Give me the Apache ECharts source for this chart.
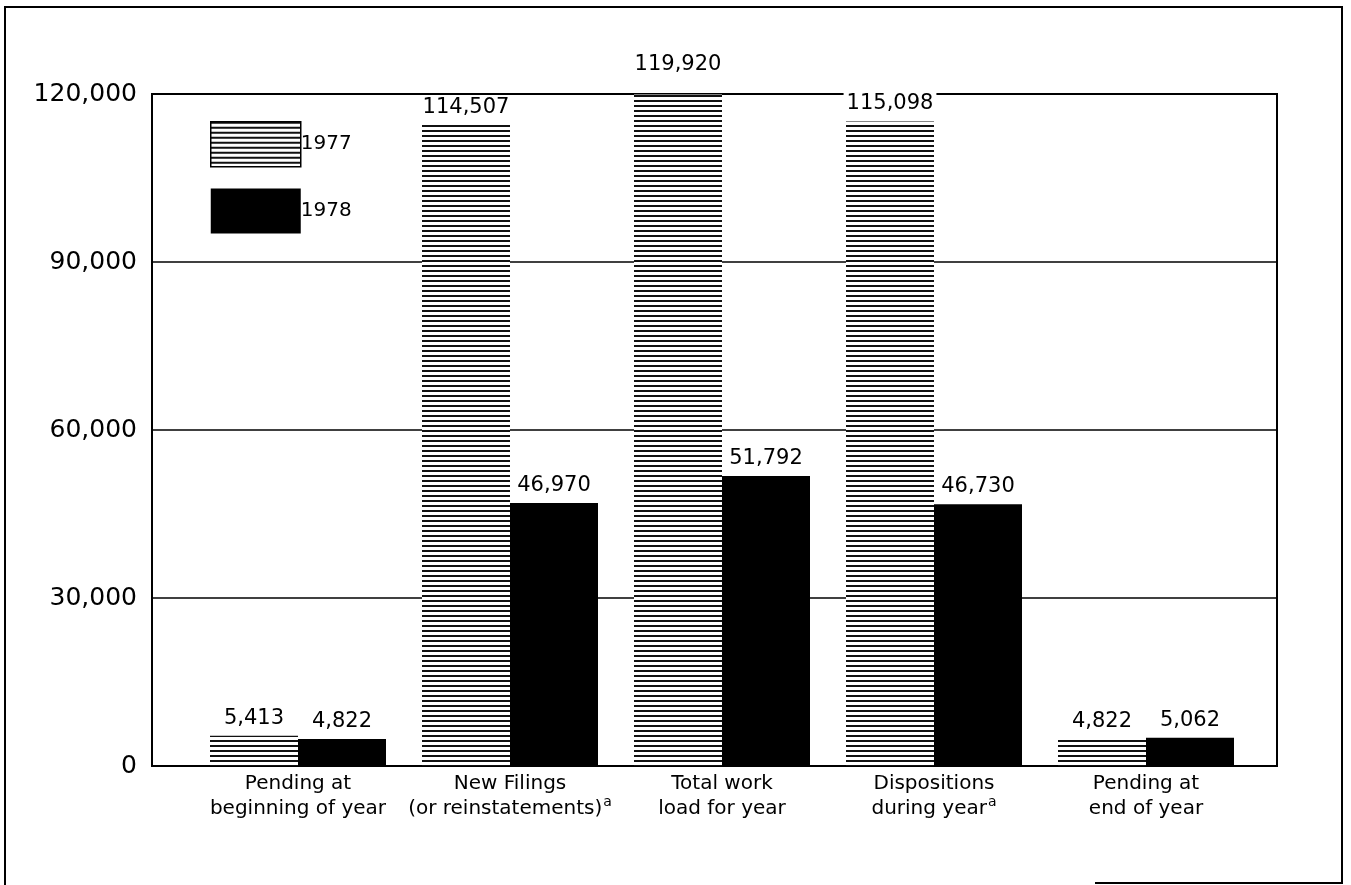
<!DOCTYPE html>
<html>
<head>
<meta charset="utf-8">
<style>
  html, body { margin: 0; padding: 0; background: #fff; }
  #chart { width: 1351px; height: 885px; }
</style>
<script src="https://cdn.jsdelivr.net/npm/echarts@6/dist/echarts.min.js"></script>
</head>
<body>
<div id="chart"></div>
<script>
// ---- Data ----
var categories = [
  'Pending at\nbeginning of year',
  'New Filings\n(or reinstatements){sup|a}',
  'Total work\nload for year',
  'Dispositions\nduring year{sup|a}',
  'Pending at\nend of year'
];
var seriesNames = ['1977', '1978'];
var values1977 = [5413, 114507, 119920, 115098, 4822];
var values1978 = [4822, 46970, 51792, 46730, 5062];
var yTicks = [0, 30000, 60000, 90000, 120000];

// ---- Hatch pattern ----
function makeHatch() {
  var c = document.createElement('canvas');
  c.width = 8; c.height = 5;
  var ctx = c.getContext('2d');
  ctx.fillStyle = '#ffffff';
  ctx.fillRect(0, 0, 8, 5);
  ctx.fillStyle = '#111111';
  ctx.fillRect(0, 0, 8, 2);
  return c;
}
var hatch = { image: makeHatch(), repeat: 'repeat' };

function fmt(v) { return v.toLocaleString('en-US'); }

var FONT = 'DejaVu Sans';
var yMin = yTicks[0], yMax = yTicks[yTicks.length - 1];
var yStep = yTicks[1] - yTicks[0];

// Label for the tallest bar sits higher, above the frame, in the reference
var data1977 = values1977.map(function (v) {
  var item = { value: v };
  if (v === Math.max.apply(null, values1977)) {
    item.label = { offset: [0, -12] };
  }
  return item;
});

var labelBase = {
  show: true,
  position: 'top',
  distance: 6,
  color: '#000',
  fontFamily: FONT,
  fontSize: 21,
  formatter: function (p) { return fmt(p.value); }
};

var chart = echarts.init(document.getElementById('chart'), null, { renderer: 'canvas' });

chart.setOption({
  backgroundColor: '#ffffff',
  animation: false,
  grid: [
    { left: 152, right: 74, top: 94, bottom: 119, show: true, borderColor: '#000', borderWidth: 2, backgroundColor: 'transparent' },
    { left: 192, right: 99, top: 94, bottom: 119 }
  ],
  xAxis: [
    { gridIndex: 0, type: 'value', min: 0, max: 1, show: false },
    {
      gridIndex: 1, type: 'category', data: categories,
      axisLine: { show: false }, axisTick: { show: false },
      axisLabel: {
        color: '#000', fontFamily: FONT, fontSize: 20, lineHeight: 25, margin: 5,
        interval: 0,
        rich: { sup: { fontSize: 14, fontFamily: FONT, color: '#000', padding: [0, 0, 12, 1] } }
      }
    }
  ],
  yAxis: [
    {
      gridIndex: 0, type: 'value', min: yMin, max: yMax, interval: yStep,
      axisLine: { show: true, lineStyle: { color: '#000', width: 2 } },
      axisTick: { show: false },
      splitLine: { show: true, lineStyle: { color: '#000', width: 1.5 } },
      axisLabel: { color: '#000', fontFamily: FONT, fontSize: 25, margin: 15, formatter: function (v) { return fmt(v); } }
    },
    { gridIndex: 1, type: 'value', min: yMin, max: yMax, interval: yStep, show: false, splitLine: { show: false } }
  ],
  legend: {
    orient: 'vertical', left: 205, top: 116,
    itemWidth: 90, itemHeight: 45, itemGap: 21,
    icon: 'rect',
    textStyle: { color: '#000', fontFamily: FONT, fontSize: 20, padding: [0, 0, 0, -5] },
    data: [
      { name: seriesNames[0], itemStyle: { color: hatch, borderColor: '#000', borderWidth: 1.5 } },
      { name: seriesNames[1], itemStyle: { color: '#000' } }
    ]
  },
  series: [
    {
      name: seriesNames[0], type: 'bar', xAxisIndex: 1, yAxisIndex: 1,
      data: data1977, barWidth: 88, barGap: '0%',
      itemStyle: { color: hatch },
      label: Object.assign({}, labelBase, { backgroundColor: '#fff', padding: [1, 3] }),
      z: 3
    },
    {
      name: seriesNames[1], type: 'bar', xAxisIndex: 1, yAxisIndex: 1,
      data: values1978, barWidth: 88, barGap: '0%',
      itemStyle: { color: '#000' },
      label: Object.assign({}, labelBase, { padding: [1, 3] }),
      z: 3
    }
  ],
  graphic: [
    {
      type: 'polyline', silent: true,
      shape: { points: [[5, 885], [5, 7], [1342, 7], [1342, 883], [1095, 883]] },
      style: { stroke: '#000', lineWidth: 2, fill: null }
    }
  ]
});
</script>
</body>
</html>
